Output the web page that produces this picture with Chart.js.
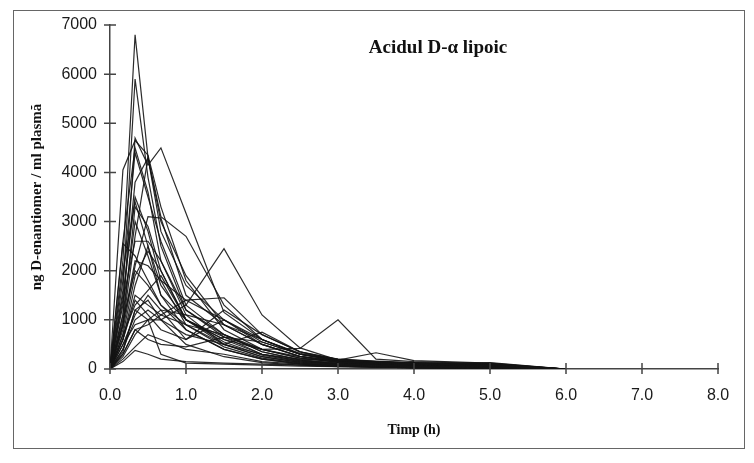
<!DOCTYPE html>
<html>
<head>
<meta charset="utf-8">
<script src="https://cdn.jsdelivr.net/npm/chart.js@4.4.1/dist/chart.umd.min.js"></script>
<style>
    body { margin: 0; background: #fff; }
    #wrap { position: relative; width: 754px; height: 463px; }
    #frame { position: absolute; left: 13px; top: 10px; width: 730px; height: 437px; border: 1.5px solid #666; pointer-events: none; }
</style>
</head>
<body>
<div id="wrap">
    <canvas id="pkChart" width="754" height="463"></canvas>
    <div id="frame"></div>
</div>
<script>
// sampling times (h)
const times = [0, 0.17, 0.33, 0.5, 0.67, 1, 1.5, 2, 2.5, 3, 3.5, 4, 5, 6];

// ng D-enantiomer / ml plasma, one row per subject
const subjects = [
    [0, 2200, 6800, 4300, 3100, 2700, 1300, 600, 300, 180, 130, 110, 70, 0],
    [0, 1600, 5900, 3900, 2500, 1200, 650, 300, 160, 100, 80, 60, 40, 0],
    [0, 4050, 4650, 4350, 3300, 1800, 800, 400, 220, 140, 110, 90, 60, 0],
    [0, 1100, 4700, 4150, 4500, 3170, 1150, 600, 320, 200, 160, 130, 100, 0],
    [0, 2600, 4500, 3600, 2200, 1100, 500, 250, 130, 80, 60, 40, 20, 0],
    [0, 900, 3300, 2900, 2000, 1000, 600, 300, 170, 110, 90, 70, 50, 0],
    [0, 2550, 2300, 1800, 1300, 800, 400, 200, 100, 60, 40, 30, 10, 0],
    [0, 1400, 2600, 2600, 2200, 1200, 700, 350, 190, 120, 100, 80, 60, 0],
    [0, 800, 2100, 3100, 3070, 1500, 900, 500, 260, 150, 110, 90, 70, 0],
    [0, 500, 900, 1000, 1000, 1300, 2450, 1100, 430, 180, 140, 120, 90, 0],
    [0, 300, 800, 900, 1100, 900, 700, 400, 420, 1000, 200, 150, 110, 0],
    [0, 600, 1500, 1300, 1100, 1400, 1450, 700, 350, 200, 150, 120, 80, 0],
    [0, 1000, 2000, 1700, 1300, 900, 500, 750, 350, 160, 100, 70, 40, 0],
    [0, 400, 1000, 1200, 1000, 700, 500, 300, 200, 180, 330, 170, 120, 0],
    [0, 700, 1300, 1600, 1900, 1000, 600, 400, 220, 140, 110, 100, 130, 0],
    [0, 200, 450, 700, 600, 400, 300, 150, 100, 70, 50, 40, 20, 0],
    [0, 150, 380, 300, 200, 150, 120, 100, 80, 60, 40, 30, 15, 0],
    [0, 350, 1200, 1000, 300, 120, 100, 80, 60, 50, 40, 30, 20, 0],
    [0, 1800, 4400, 3500, 2600, 1300, 700, 350, 180, 110, 80, 60, 40, 0],
    [0, 1300, 3800, 4300, 3000, 1900, 900, 500, 260, 160, 120, 100, 80, 0],
    [0, 900, 2200, 2100, 1800, 1400, 1000, 600, 300, 170, 130, 110, 90, 0],
    [0, 600, 1700, 2500, 1500, 1000, 650, 400, 250, 170, 140, 120, 110, 0],
    [0, 1100, 3000, 2300, 1500, 800, 400, 200, 110, 70, 50, 30, 15, 0],
    [0, 500, 1100, 1500, 1200, 600, 1000, 500, 250, 130, 90, 70, 50, 0],
    [0, 250, 700, 1000, 1200, 1100, 900, 600, 300, 180, 140, 120, 100, 0],
    [0, 1500, 3500, 2800, 1800, 900, 450, 220, 120, 70, 50, 30, 20, 0],
    [0, 700, 1900, 2400, 2000, 1000, 500, 250, 140, 90, 60, 40, 30, 0],
    [0, 2000, 3400, 2500, 1700, 1000, 550, 280, 150, 100, 80, 70, 60, 0],
    [0, 400, 1200, 1400, 1000, 500, 250, 130, 80, 50, 40, 30, 15, 0],
    [0, 900, 2700, 4300, 2800, 1700, 1000, 550, 300, 190, 150, 120, 90, 0],
    [0, 600, 1400, 1100, 800, 600, 1200, 700, 350, 190, 130, 100, 70, 0],
    [0, 300, 800, 600, 500, 450, 650, 550, 300, 160, 120, 100, 60, 0]
];

const xTicks = [0, 1, 2, 3, 4, 5, 6, 7, 8];
const yTicks = [0, 1000, 2000, 3000, 4000, 5000, 6000, 7000];

const datasets = subjects.map(function (vals, i) {
    return {
        label: 'S' + (i + 1),
        data: times.map(function (t, j) { return { x: t, y: vals[j] }; }),
        borderColor: 'rgba(20, 20, 20, 0.9)',
        borderWidth: 1.2,
        pointRadius: 0,
        tension: 0,
        fill: false
    };
});

// ticks that cross the axis lines, plus the title inside the plot
const axisDecor = {
    id: 'axisDecor',
    afterDraw: function (chart) {
        const ctx = chart.ctx;
        const xs = chart.scales.x, ys = chart.scales.y;
        const x0 = xs.getPixelForValue(0), y0 = ys.getPixelForValue(0);
        ctx.save();
        ctx.strokeStyle = '#444';
        ctx.lineWidth = 1.5;
        ctx.beginPath();
        yTicks.forEach(function (v) {
            const y = ys.getPixelForValue(v);
            ctx.moveTo(x0 - 6, y);
            ctx.lineTo(x0 + 6, y);
        });
        xTicks.forEach(function (v) {
            const x = xs.getPixelForValue(v);
            ctx.moveTo(x, y0 - 6);
            ctx.lineTo(x, y0 + 5);
        });
        ctx.stroke();
        ctx.fillStyle = '#111';
        ctx.font = 'bold 19px "Liberation Serif", "Times New Roman", serif';
        ctx.textAlign = 'center';
        ctx.textBaseline = 'alphabetic';
        ctx.fillText('Acidul D-\u03b1 lipoic', 438, 53);
        ctx.restore();
    }
};

document.addEventListener('DOMContentLoaded', function () {
    const ctx = document.getElementById('pkChart').getContext('2d');
    new Chart(ctx, {
        type: 'line',
        data: { datasets: datasets },
        options: {
            responsive: false,
            animation: false,
            layout: { padding: { left: 12, right: 36, top: 25, bottom: 12 } },
            plugins: {
                legend: { display: false },
                tooltip: { enabled: false }
            },
            scales: {
                x: {
                    type: 'linear',
                    min: 0,
                    max: 8,
                    afterBuildTicks: function (scale) {
                        scale.ticks = xTicks.map(function (v) { return { value: v }; });
                    },
                    afterFit: function (scale) { scale.height = 82; },
                    grid: { drawOnChartArea: false, drawTicks: false },
                    border: { color: '#444', width: 1.5 },
                    ticks: {
                        padding: 17,
                        color: '#1a1a1a',
                        font: { family: '"Liberation Sans", Arial, sans-serif', size: 16 },
                        callback: function (v) { return Number(v).toFixed(1); }
                    },
                    title: {
                        display: true,
                        text: 'Timp (h)',
                        color: '#111',
                        font: { family: '"Liberation Serif", "Times New Roman", serif', size: 14, weight: 'bold' },
                        padding: { top: 0, bottom: 12 }
                    }
                },
                y: {
                    min: 0,
                    max: 7000,
                    afterBuildTicks: function (scale) {
                        scale.ticks = yTicks.map(function (v) { return { value: v }; });
                    },
                    afterFit: function (scale) { scale.width = 98; },
                    grid: { drawOnChartArea: false, drawTicks: false },
                    border: { color: '#444', width: 1.5 },
                    ticks: {
                        padding: 13,
                        color: '#1a1a1a',
                        font: { family: '"Liberation Sans", Arial, sans-serif', size: 16 },
                        callback: function (v) { return String(v); }
                    },
                    title: {
                        display: true,
                        text: 'ng D-enantiomer / ml plasmă',
                        color: '#111',
                        font: { family: '"Liberation Serif", "Times New Roman", serif', size: 15, weight: 'bold' },
                        padding: { top: 16, bottom: 0 }
                    }
                }
            }
        },
        plugins: [axisDecor]
    });
});
</script>
</body>
</html>
